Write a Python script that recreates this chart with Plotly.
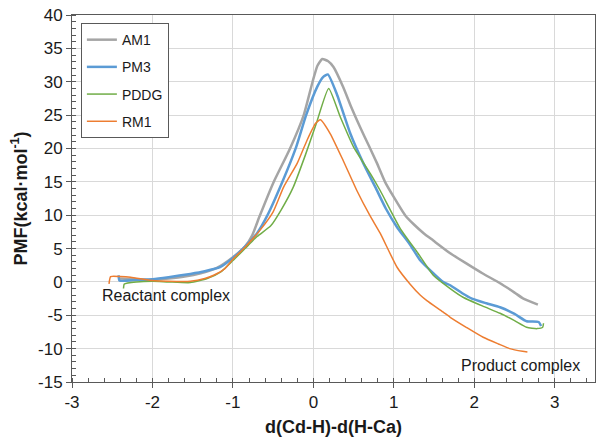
import plotly.graph_objects as go

# ---- data ----
am1_x = [-2.42, -2.2, -2.0, -1.8, -1.6, -1.4, -1.2, -1.0, -0.85, -0.76, -0.67, -0.5, -0.29, -0.12,
         -0.01, 0.05, 0.11, 0.18, 0.25, 0.37, 0.47, 0.58, 0.69, 0.79, 0.89, 1.0, 1.14, 1.25, 1.37, 1.49,
         1.7, 1.91, 2.1, 2.32, 2.5, 2.61, 2.79]
am1_y = [0.5, 0.4, 0.3, 0.5, 0.8, 1.3, 2.1, 3.7, 5.3, 7.0, 9.8, 14.8, 20.0, 25.0,
         30.0, 32.4, 33.4, 33.1, 32.2, 29.2, 26.2, 23.2, 20.4, 17.8, 15.0, 12.7, 10.0, 8.6, 7.3, 6.2,
         4.3, 2.7, 1.3, -0.2, -1.6, -2.5, -3.4]

pm3_x = [-2.42, -2.41, -2.2, -2.0, -1.8, -1.53, -1.35, -1.16, -1.0, -0.85, -0.7, -0.57, -0.385, -0.22,
         -0.09, 0.05, 0.12, 0.18, 0.29, 0.46, 0.62, 0.77, 0.9, 1.04, 1.2, 1.33, 1.49, 1.61, 1.7, 1.85, 1.97,
         2.15, 2.32, 2.5, 2.65, 2.8, 2.83]
pm3_y = [1.0, 0.2, 0.3, 0.4, 0.7, 1.2, 1.6, 2.2, 3.6, 5.3, 7.3, 10.0, 15.0, 20.0,
         25.0, 29.3, 30.7, 31.1, 28.2, 22.2, 17.8, 14.2, 11.0, 8.2, 5.6, 3.2, 1.3, 0.0, -0.5, -1.7, -2.5,
         -3.2, -3.8, -4.8, -5.9, -6.0, -6.6]

pddg_x = [-2.36, -2.35, -2.2, -2.0, -1.8, -1.53, -1.32, -1.15, -1.0, -0.85, -0.7, -0.53, -0.4, -0.25,
          -0.1, 0.03, 0.19, 0.335, 0.5, 0.71, 0.83, 1.08, 1.3, 1.49, 1.7, 1.86, 2.1, 2.32, 2.5, 2.65,
          2.78, 2.85, 2.86]
pddg_y = [-1.0, -0.3, 0.0, 0.1, 0.0, -0.1, 0.5, 1.5, 3.2, 5.0, 6.8, 8.4, 10.8, 14.2,
          19.0, 23.5, 29.0, 24.7, 20.2, 16.2, 13.7, 8.0, 4.3, 1.0, -1.0, -2.3, -3.6, -4.7, -5.8, -6.8,
          -7.0, -6.8, -6.2]

rm1_x = [-2.54, -2.52, -2.4, -2.27, -2.0, -1.8, -1.53, -1.35, -1.24, -1.1, -1.0, -0.85, -0.66, -0.5,
         -0.37, -0.2, -0.08, 0.03, 0.087, 0.21, 0.37, 0.54, 0.7, 0.83, 1.04, 1.2, 1.33, 1.41, 1.61, 1.7,
         1.9, 2.11, 2.3, 2.44, 2.6, 2.66]
rm1_y = [-0.3, 0.8, 0.8, 0.7, 0.2, 0.1, 0.1, 0.5, 1.0, 2.0, 3.4, 5.2, 7.8, 10.5,
         14.2, 17.8, 21.2, 23.8, 24.3, 22.2, 18.2, 13.7, 10.0, 7.3, 2.2, -0.3, -2.0, -2.8, -4.5, -5.3,
         -6.8, -8.3, -9.3, -10.0, -10.4, -10.5]

series = [
    ("AM1", am1_x, am1_y, "#A5A5A5", 2.5),
    ("PM3", pm3_x, pm3_y, "#5B9BD5", 2.5),
    ("PDDG", pddg_x, pddg_y, "#70AD47", 1.5),
    ("RM1", rm1_x, rm1_y, "#ED7D31", 1.5),
]

x_ticks = [-3, -2, -1, 0, 1, 2, 3]
y_ticks = [-15, -10, -5, 0, 5, 10, 15, 20, 25, 30, 35, 40]

FONT = "Liberation Sans, Arial, sans-serif"
AXIS_COLOR = "#595959"
TEXT_COLOR = "#1a1a1a"

fig = go.Figure()
for i, (name, xs, ys, color, w) in enumerate(series):
    fig.add_trace(go.Scatter(
        x=xs, y=ys, name=name, mode="lines",
        line=dict(color=color, width=w, shape="spline", smoothing=0.5),
        legendgroup=f"g{i}",
    ))

fig.add_annotation(x=-1.83, y=-2.0, text="Reactant complex", showarrow=False,
                   xref="x", yref="y", font=dict(size=16, color=TEXT_COLOR, family=FONT))
fig.add_annotation(x=2.58, y=-12.5, text="Product complex", showarrow=False,
                   xref="x", yref="y", font=dict(size=16, color=TEXT_COLOR, family=FONT))

fig.update_layout(
    width=596, height=437,
    margin=dict(l=64, r=9, t=7, b=63),
    paper_bgcolor="white", plot_bgcolor="white",
    font=dict(family=FONT, color=TEXT_COLOR),
    showlegend=True,
    legend=dict(
        x=0.017, y=0.978, xanchor="left", yanchor="top",
        bgcolor="white", bordercolor=AXIS_COLOR, borderwidth=1,
        font=dict(size=14, family=FONT, color=TEXT_COLOR),
        tracegroupgap=6, itemwidth=30,
    ),
    xaxis=dict(
        range=[-3, 3.5], tickvals=x_ticks, ticktext=[str(v) for v in x_ticks],
        showgrid=True, gridcolor="#D9D9D9", gridwidth=1, zeroline=False,
        showline=True, linecolor=AXIS_COLOR, linewidth=1, mirror=True,
        ticks="outside", ticklen=5, tickcolor=AXIS_COLOR, automargin=False,
        ticklabeloverflow="allow",
        minor=dict(dtick=0.2, ticks="inside", ticklen=4, tickcolor=AXIS_COLOR, showgrid=False),
        tickfont=dict(size=17, family=FONT, color=TEXT_COLOR),
        title=dict(text="<b>d(Cd-H)-d(H-Ca)</b>", font=dict(size=18, family=FONT, color=TEXT_COLOR), standoff=8),
    ),
    yaxis=dict(
        range=[-15, 40], tickvals=y_ticks, ticktext=[str(v) for v in y_ticks],
        showgrid=True, gridcolor="#D9D9D9", gridwidth=1, zeroline=False,
        showline=True, linecolor=AXIS_COLOR, linewidth=1, mirror=True,
        ticks="outside", ticklen=5, tickcolor=AXIS_COLOR, automargin=False,
        ticklabeloverflow="allow",
        minor=dict(dtick=1, ticks="inside", ticklen=4, tickcolor=AXIS_COLOR, showgrid=False),
        tickfont=dict(size=17, family=FONT, color=TEXT_COLOR),
        title=dict(text="<b>PMF(kcal·mol<sup>-1</sup>)</b>", font=dict(size=18, family=FONT, color=TEXT_COLOR), standoff=12),
    ),
)

fig.write_html("out.html")
